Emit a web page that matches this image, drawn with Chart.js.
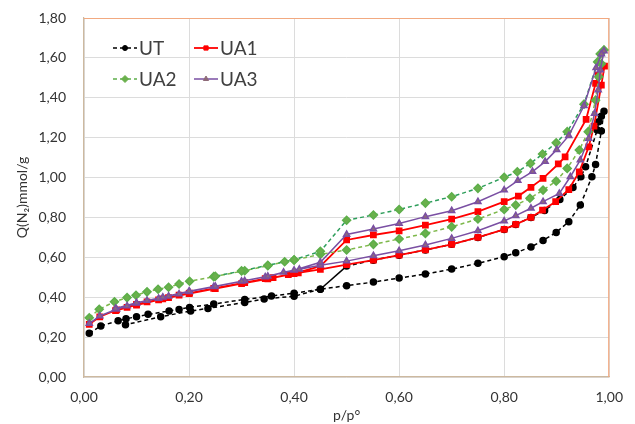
<!DOCTYPE html>
<html>
<head>
<meta charset="utf-8">
<script src="https://cdn.jsdelivr.net/npm/chart.js@4/dist/chart.umd.min.js"></script>
<style>
  html, body { margin: 0; padding: 0; background: #fff; }
  #wrap { width: 635px; height: 424px; }
</style>
</head>
<body>
<div id="wrap"><canvas id="iso"></canvas></div>
<script>
// isotherm data, p/p° and Q(N2) mmol/g, adsorption then desorption
var utAdsP = [0.01,0.032,0.065,0.08,0.10,0.122,0.162,0.181,0.201,0.247,0.306,0.357,0.40,0.45,0.50,0.551,0.60,0.65,0.70,0.75,0.80,0.822,0.851,0.874,0.899,0.923,0.945,0.967,0.974,0.985,0.99];
var utAdsQ = [0.219,0.256,0.282,0.292,0.302,0.314,0.331,0.339,0.349,0.366,0.389,0.406,0.42,0.44,0.458,0.476,0.496,0.516,0.541,0.57,0.603,0.623,0.652,0.685,0.725,0.779,0.862,1.004,1.066,1.233,1.333];
var utDesP = [0.985,0.98,0.977,0.955,0.946,0.931,0.906,0.877,0.851,0.822,0.80,0.75,0.70,0.65,0.60,0.551,0.50,0.45,0.40,0.343,0.306,0.236,0.203,0.146,0.079];
var utDesQ = [1.308,1.28,1.238,1.054,1.004,0.95,0.89,0.835,0.80,0.765,0.74,0.70,0.665,0.637,0.611,0.586,0.556,0.44,0.405,0.391,0.374,0.344,0.331,0.302,0.262];

var ua1AdsP = [0.01,0.03,0.062,0.082,0.10,0.12,0.142,0.161,0.181,0.201,0.247,0.306,0.345,0.36,0.389,0.408,0.45,0.50,0.551,0.60,0.65,0.70,0.75,0.80,0.822,0.851,0.873,0.898,0.923,0.943,0.961,0.971,0.985,0.991];
var ua1AdsQ = [0.264,0.302,0.336,0.349,0.364,0.377,0.387,0.398,0.41,0.421,0.444,0.473,0.493,0.498,0.513,0.522,0.54,0.563,0.586,0.611,0.637,0.665,0.70,0.74,0.765,0.80,0.837,0.879,0.94,1.029,1.154,1.258,1.464,1.559];
var ua1DesP = [0.979,0.974,0.956,0.916,0.903,0.874,0.851,0.827,0.80,0.75,0.70,0.65,0.60,0.551,0.50,0.45,0.40,0.35,0.30,0.25,0.20,0.15,0.10,0.06];
var ua1DesQ = [1.514,1.472,1.292,1.104,1.068,0.996,0.951,0.907,0.879,0.829,0.792,0.762,0.733,0.712,0.687,0.556,0.518,0.492,0.468,0.443,0.418,0.392,0.361,0.333];

var ua2AdsP = [0.01,0.029,0.058,0.082,0.099,0.12,0.141,0.161,0.181,0.201,0.247,0.306,0.35,0.382,0.40,0.45,0.50,0.551,0.60,0.65,0.70,0.75,0.80,0.822,0.849,0.874,0.899,0.92,0.943,0.96,0.974,0.98,0.985,0.99];
var ua2AdsQ = [0.297,0.34,0.377,0.398,0.41,0.427,0.44,0.45,0.466,0.48,0.503,0.533,0.558,0.578,0.586,0.615,0.637,0.665,0.692,0.72,0.753,0.792,0.84,0.862,0.896,0.937,0.982,1.046,1.138,1.23,1.388,1.505,1.57,1.64];
var ua2DesP = [0.983,0.978,0.952,0.92,0.899,0.873,0.85,0.825,0.80,0.75,0.70,0.65,0.60,0.551,0.50,0.45,0.40,0.35,0.30,0.25];
var ua2DesQ = [1.62,1.58,1.368,1.23,1.174,1.118,1.071,1.029,1.001,0.946,0.904,0.872,0.84,0.812,0.786,0.63,0.588,0.56,0.532,0.505];

var ua3AdsP = [0.01,0.03,0.062,0.082,0.10,0.12,0.142,0.161,0.181,0.201,0.247,0.306,0.345,0.38,0.41,0.45,0.50,0.551,0.60,0.65,0.70,0.75,0.80,0.822,0.851,0.874,0.905,0.926,0.945,0.961,0.972,0.979,0.983,0.99];
var ua3AdsQ = [0.268,0.306,0.34,0.356,0.37,0.383,0.394,0.405,0.416,0.428,0.452,0.482,0.502,0.525,0.54,0.56,0.581,0.608,0.633,0.662,0.695,0.733,0.782,0.809,0.846,0.879,0.92,1.004,1.088,1.196,1.321,1.439,1.539,1.635];
var ua3DesP = [0.985,0.975,0.952,0.923,0.90,0.878,0.854,0.826,0.80,0.75,0.70,0.65,0.60,0.551,0.50,0.45,0.40,0.35,0.30,0.25,0.20,0.15,0.10,0.06];
var ua3DesQ = [1.62,1.55,1.36,1.21,1.14,1.08,1.03,0.985,0.937,0.879,0.834,0.804,0.77,0.742,0.715,0.575,0.535,0.505,0.48,0.455,0.43,0.40,0.372,0.343];

var seriesNames = ['UT', 'UA1', 'UA2', 'UA3'];
var xTicks = [0, 0.2, 0.4, 0.6, 0.8, 1.0];
var yTicks = [0, 0.2, 0.4, 0.6, 0.8, 1.0, 1.2, 1.4, 1.6, 1.8];

function loop(ap, aq, dp, dq) {
    var pts = [];
    for (var i = 0; i < ap.length; i++) pts.push({x: ap[i], y: aq[i]});
    for (var j = 0; j < dp.length; j++) pts.push({x: dp[j], y: dq[j]});
    return pts;
}
function comma(v) { return Number(v).toFixed(2).replace('.', ','); }

var FONT = 'Lato, "Open Sans", sans-serif';
var TXT = '#333333';

var datasets = [
    {
        label: seriesNames[0],
        data: loop(utAdsP, utAdsQ, utDesP, utDesQ),
        borderColor: '#000000', backgroundColor: '#000000',
        borderWidth: 1.5, borderDash: [4, 3],
        pointStyle: 'circle', pointRadius: 3,
        order: 4,
        segment: {
            // the closing step of the desorption branch is drawn solid
            borderDash: function(ctx) {
                return (ctx.p0.parsed.x > 0.48 && ctx.p1.parsed.x < 0.47) ? [] : [4, 3];
            }
        }
    },
    {
        label: seriesNames[1],
        data: loop(ua1AdsP, ua1AdsQ, ua1DesP, ua1DesQ),
        borderColor: '#FF0000', backgroundColor: '#FF0000',
        borderWidth: 1.8,
        pointStyle: 'rect', pointRadius: 3.5,
        order: 3
    },
    {
        label: seriesNames[2],
        data: loop(ua2AdsP, ua2AdsQ, ua2DesP, ua2DesQ),
        borderColor: '#5DAF4A', backgroundColor: '#6AB04C',
        borderWidth: 1.5, borderDash: [4, 3],
        pointStyle: 'rectRot', pointRadius: 4,
        order: 2,
        segment: {
            borderColor: function(ctx) {
                return ctx.p1.parsed.x < ctx.p0.parsed.x ? '#2E9E5B' : '#7DB84A';
            }
        }
    },
    {
        label: seriesNames[3],
        data: loop(ua3AdsP, ua3AdsQ, ua3DesP, ua3DesQ),
        borderColor: '#7A4FA3', backgroundColor: '#8E6A78',
        borderWidth: 1.5,
        pointStyle: 'triangle', pointRadius: 3.5,
        order: 1
    }
];

// orange frame on top and right like the original sheet
var framePlugin = {
    id: 'frame',
    beforeDatasetsDraw: function(chart) {
        var a = chart.chartArea, c = chart.ctx;
        c.save();
        c.strokeStyle = '#F2A980';
        c.lineWidth = 1.2;
        c.beginPath();
        c.moveTo(a.left, a.top + 0.5);
        c.lineTo(a.right - 0.5, a.top + 0.5);
        c.lineTo(a.right - 0.5, a.bottom);
        c.stroke();
        c.restore();
    }
};

// two column legend inside the plot, line + marker + name
var legendPlugin = {
    id: 'isoLegend',
    afterDraw: function(chart) {
        var c = chart.ctx;
        var cols = [113, 194], rows = [48, 79];
        chart.data.datasets.forEach(function(ds, i) {
            var x = cols[i % 2], y = rows[Math.floor(i / 2)];
            c.save();
            c.strokeStyle = ds.borderColor;
            c.lineWidth = ds.borderWidth;
            c.setLineDash(ds.borderDash || []);
            c.beginPath();
            c.moveTo(x, y);
            c.lineTo(x + 24, y);
            c.stroke();
            c.setLineDash([]);
            c.fillStyle = ds.backgroundColor;
            c.strokeStyle = ds.backgroundColor;
            c.lineWidth = 1;
            Chart.helpers.drawPoint(c, {
                pointStyle: ds.pointStyle, radius: ds.pointRadius - 0.5,
                rotation: 0, borderWidth: 1
            }, x + 12, y);
            c.fillStyle = '#404040';
            c.font = '19px ' + FONT;
            c.textBaseline = 'middle';
            c.fillText(ds.label, x + 26, y + 1);
            c.restore();
        });
    }
};

new Chart(document.getElementById('iso'), {
    type: 'scatter',
    data: { datasets: datasets },
    options: {
        responsive: true,
        maintainAspectRatio: false,
        animation: false,
        showLine: true,
        layout: { padding: { top: 18, right: 22, left: 10, bottom: 0 } },
        elements: { line: { tension: 0 }, point: { borderWidth: 1 } },
        plugins: { legend: { display: false }, tooltip: { enabled: false } },
        scales: {
            x: {
                type: 'linear', min: 0, max: 1,
                afterFit: function(s) { s.height = 47; },
                afterBuildTicks: function(s) { s.ticks = xTicks.map(function(v) { return {value: v}; }); },
                ticks: { callback: comma, color: TXT, font: { family: FONT, size: 14 }, padding: 12, maxRotation: 0 },
                grid: { color: '#DCDCDC', drawTicks: false },
                border: { color: '#CDB99F', width: 1.2 },
                title: { display: true, text: 'p/p°', color: TXT, font: { family: FONT, size: 14 }, padding: { top: 0, bottom: 0 } }
            },
            y: {
                type: 'linear', min: 0, max: 1.8,
                afterFit: function(s) {
                    s.width = 74;
                    // tick padding would otherwise push the plot top down
                    s.paddingTop = 0;
                    s.paddingBottom = 0;
                },
                afterBuildTicks: function(s) { s.ticks = yTicks.map(function(v) { return {value: v}; }); },
                ticks: { callback: comma, color: TXT, font: { family: FONT, size: 14 }, padding: 18 },
                grid: { color: '#DCDCDC', drawTicks: false },
                border: { color: '#CDB99F', width: 1.2 },
                title: { display: true, text: 'Q(N₂)mmol/g', color: TXT, font: { family: FONT, size: 14 }, padding: { top: 4, bottom: 4 } }
            }
        }
    },
    plugins: [framePlugin, legendPlugin]
});
</script>
</body>
</html>
